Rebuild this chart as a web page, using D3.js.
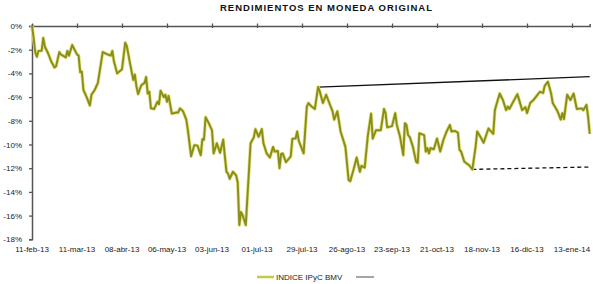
<!DOCTYPE html>
<html>
<head>
<meta charset="utf-8">
<script src="https://cdn.jsdelivr.net/npm/d3@7"></script>
<style>
  body { margin: 0; background: #fff; }
  svg { display: block; font-family: "Liberation Sans", Arial, sans-serif; }
</style>
</head>
<body>
<svg id="chart" width="593" height="284"></svg>
<script>
// rendimiento acumulado del IPyC (fechas)
var fechas = ["2013-02-11","2013-02-12","2013-02-13","2013-02-14","2013-02-15","2013-02-17","2013-02-18","2013-02-19","2013-02-21","2013-02-23",
"2013-02-25","2013-02-26","2013-02-28","2013-03-01","2013-03-04","2013-03-05","2013-03-06","2013-03-08","2013-03-11","2013-03-12",
"2013-03-13","2013-03-14","2013-03-15","2013-03-17","2013-03-19","2013-03-20","2013-03-22","2013-03-24","2013-03-27","2013-03-30",
"2013-04-01","2013-04-02","2013-04-03","2013-04-05","2013-04-08","2013-04-10","2013-04-11","2013-04-13","2013-04-15","2013-04-16",
"2013-04-17","2013-04-18","2013-04-20","2013-04-22","2013-04-23","2013-04-24","2013-04-25","2013-04-26","2013-04-28","2013-04-30",
"2013-05-01","2013-05-02","2013-05-04","2013-05-05","2013-05-06","2013-05-07","2013-05-09","2013-05-12","2013-05-13","2013-05-14",
"2013-05-16","2013-05-18","2013-05-19","2013-05-21","2013-05-23","2013-05-25","2013-05-27","2013-05-28","2013-05-29","2013-05-30",
"2013-06-01","2013-06-03","2013-06-04","2013-06-06","2013-06-08","2013-06-10","2013-06-11","2013-06-12","2013-06-13","2013-06-14",
"2013-06-16","2013-06-18","2013-06-19","2013-06-20","2013-06-21","2013-06-22","2013-06-24","2013-06-27","2013-06-29","2013-06-30",
"2013-07-02","2013-07-04","2013-07-05","2013-07-07","2013-07-09","2013-07-11","2013-07-12","2013-07-14","2013-07-15","2013-07-16",
"2013-07-17","2013-07-19","2013-07-22","2013-07-23","2013-07-25","2013-07-26","2013-07-27","2013-07-30","2013-08-01","2013-08-02",
"2013-08-04","2013-08-06","2013-08-08","2013-08-09","2013-08-11","2013-08-13","2013-08-15","2013-08-17","2013-08-18","2013-08-20",
"2013-08-22","2013-08-25","2013-08-27","2013-08-28","2013-08-30","2013-09-01","2013-09-03","2013-09-04","2013-09-06","2013-09-08",
"2013-09-10","2013-09-11","2013-09-13","2013-09-16","2013-09-18","2013-09-19","2013-09-20","2013-09-23","2013-09-25","2013-09-26",
"2013-09-28","2013-09-30","2013-10-01","2013-10-02","2013-10-03","2013-10-04","2013-10-06","2013-10-08","2013-10-09","2013-10-10",
"2013-10-13","2013-10-14","2013-10-15","2013-10-16","2013-10-17","2013-10-19","2013-10-21","2013-10-23","2013-10-25","2013-10-27",
"2013-10-29","2013-10-30","2013-11-01","2013-11-03","2013-11-04","2013-11-05","2013-11-07","2013-11-10","2013-11-12","2013-11-14",
"2013-11-15","2013-11-17","2013-11-19","2013-11-22","2013-11-23","2013-11-25","2013-11-26","2013-11-29","2013-12-01","2013-12-03",
"2013-12-04","2013-12-05","2013-12-10","2013-12-13","2013-12-15","2013-12-16","2013-12-18","2013-12-20","2013-12-22","2013-12-24",
"2013-12-26","2013-12-27","2013-12-29","2013-12-31","2014-01-01","2014-01-04","2014-01-06","2014-01-07","2014-01-08","2014-01-10",
"2014-01-12","2014-01-14","2014-01-16","2014-01-19","2014-01-20","2014-01-22","2014-01-23","2014-01-24"];

var ipyc = [0,-1.0,-2.2,-2.6,-2.1,-2.1,-1.0,-1.75,-2.3,-3.0,
-3.5,-3.4,-2.2,-2.4,-2.65,-2.1,-2.5,-1.6,-2.4,-2.5,
-3.9,-3.85,-5.4,-6.0,-6.7,-5.8,-5.4,-4.8,-2.2,-2.4,
-2.5,-2.1,-3.0,-4.0,-3.65,-1.4,-1.7,-3.15,-4.55,-4.1,
-5.1,-5.75,-5.0,-4.8,-4.3,-5.7,-5.55,-6.95,-7.0,-6.4,
-6.6,-5.45,-6.0,-5.8,-6.4,-5.9,-7.4,-7.3,-7.3,-6.95,
-7.2,-7.9,-8.8,-11.0,-10.05,-10.1,-10.9,-9.55,-9.6,-7.7,
-8.2,-8.8,-10.75,-9.9,-10.7,-9.6,-11.0,-12.3,-12.45,-12.9,
-12.3,-12.6,-13.2,-16.8,-15.7,-15.95,-16.8,-9.9,-9.4,-8.7,
-9.35,-8.7,-9.9,-10.75,-11.1,-10.2,-10.6,-10.55,-12.0,-10.8,
-10.75,-11.5,-11.0,-9.5,-9.5,-8.9,-9.7,-10.75,-6.8,-6.5,
-6.8,-7.0,-5.15,-5.5,-6.5,-5.8,-6.5,-7.2,-7.9,-7.2,
-8.9,-10.2,-13.0,-13.1,-12.15,-11.1,-12.3,-11.8,-11.95,-9.2,
-7.4,-9.5,-8.8,-8.8,-7.0,-7.35,-8.55,-8.45,-7.35,-8.35,
-9.35,-10.9,-8.2,-8.35,-9.2,-9.35,-10.2,-11.45,-11.55,-9.05,
-9.2,-10.6,-10.3,-10.75,-10.3,-10.4,-9.5,-10.6,-9.6,-8.9,
-8.35,-8.9,-8.85,-9.0,-10.45,-10.6,-11.45,-11.75,-12.1,-10.2,
-8.9,-9.35,-9.85,-8.65,-8.8,-9.1,-7.1,-5.7,-6.25,-7.1,
-6.8,-7.0,-5.75,-7.1,-6.85,-7.35,-6.5,-6.25,-5.9,-5.55,
-5.65,-5.05,-4.7,-5.7,-6.5,-7.2,-7.9,-7.35,-7.85,-5.8,
-6.25,-5.7,-7.0,-6.95,-7.1,-6.65,-7.65,-9.1];

// lineas de tendencia (maximos y minimos)
var tendSupFechas = ["2013-08-08","2014-01-24"];
var tendSupValores = [-5.15,-4.28];
var tendInfFechas = ["2013-11-12","2014-01-24"];
var tendInfValores = [-12.1,-11.9];

var ticksFechas = ["2013-02-11","2013-03-11","2013-04-08","2013-05-06","2013-06-03","2013-07-01","2013-07-29",
"2013-08-26","2013-09-23","2013-10-21","2013-11-18","2013-12-16","2014-01-13"];
var ticksY = [0,-2,-4,-6,-8,-10,-12,-14,-16,-18];
var meses = ["ene","feb","mar","abr","may","jun","jul","ago","sep","oct","nov","dic"];

var parse = d3.timeParse("%Y-%m-%d");
var datos = fechas.map(function(f,i){ return {d:parse(f), v:ipyc[i]}; });

var svg = d3.select("#chart");
var x = d3.scaleTime().domain([parse("2013-02-11"), parse("2014-01-24")]).range([32, 589.7]);
var y = d3.scaleLinear().domain([0,-18]).range([26, 239.3]);

function fmtFecha(d){
  return d3.timeFormat("%d")(d)+"-"+meses[d.getMonth()]+"-"+d3.timeFormat("%y")(d);
}

// titulo
svg.append("text")
  .attr("x", 326).attr("y", 10.5)
  .attr("text-anchor","middle")
  .attr("font-size","9.5px").attr("font-weight","bold")
  .attr("textLength", 212).attr("lengthAdjust","spacing")
  .attr("fill","#111")
  .text("RENDIMIENTOS EN MONEDA ORIGINAL");

// eje y
var ejeY = svg.append("g").attr("transform","translate(32,0)")
  .call(d3.axisLeft(y).tickValues(ticksY).tickSize(3).tickPadding(7)
    .tickFormat(function(d){ return d+"%"; }));
ejeY.select(".domain").attr("stroke","#555").attr("stroke-width",1.5);
ejeY.selectAll(".tick line").attr("stroke","#555").attr("stroke-width",1.3);
ejeY.selectAll("text").attr("font-size","8px").attr("fill","#222")
  .attr("font-family","'Liberation Sans', Arial, sans-serif");

// eje x en 0%
var ejeX = svg.append("g").attr("transform","translate(0,"+y(0)+")")
  .call(d3.axisTop(x).tickValues(ticksFechas.map(parse)).tickSize(2).tickFormat(""));
ejeX.select(".domain").attr("stroke","#555").attr("stroke-width",1.5);
ejeX.selectAll(".tick line").attr("stroke","#555").attr("stroke-width",1.3).attr("y2",2).attr("y1",-2.5);

// etiquetas de fechas abajo
svg.append("g").selectAll("text")
  .data(ticksFechas.map(parse))
  .join("text")
  .attr("x", function(d){ return x(d); })
  .attr("y", 252)
  .attr("text-anchor","middle")
  .attr("font-size","8px").attr("fill","#222")
  .text(fmtFecha);

// tendencias
var linea = d3.line().x(function(p){ return x(p.d); }).y(function(p){ return y(p.v); });
var sup = tendSupFechas.map(function(f,i){ return {d:parse(f), v:tendSupValores[i]}; });
var inf = tendInfFechas.map(function(f,i){ return {d:parse(f), v:tendInfValores[i]}; });
svg.append("path").datum(sup).attr("d", linea)
  .attr("fill","none").attr("stroke","#111").attr("stroke-width",1.3);
svg.append("path").datum(inf).attr("d", linea)
  .attr("fill","none").attr("stroke","#111").attr("stroke-width",1.3).attr("stroke-dasharray","4,3");

// serie principal
svg.append("path").datum(datos).attr("d", linea)
  .attr("fill","none").attr("stroke","#dfe27a").attr("stroke-width",3.4)
  .attr("stroke-linejoin","round");
svg.append("path").datum(datos).attr("d", linea)
  .attr("fill","none").attr("stroke","#8a8c1c").attr("stroke-width",1.9)
  .attr("stroke-linejoin","round");

// leyenda
var ley = svg.append("g");
ley.append("line").attr("x1",257).attr("x2",274).attr("y1",277).attr("y2",277)
  .attr("stroke","#c3ca48").attr("stroke-width",2.5);
ley.append("text").attr("x",276).attr("y",280).attr("font-size","8px").attr("fill","#222")
  .text("INDICE IPyC BMV");
ley.append("line").attr("x1",356).attr("x2",374).attr("y1",277).attr("y2",277)
  .attr("stroke","#888").attr("stroke-width",1.5);
</script>
</body>
</html>
